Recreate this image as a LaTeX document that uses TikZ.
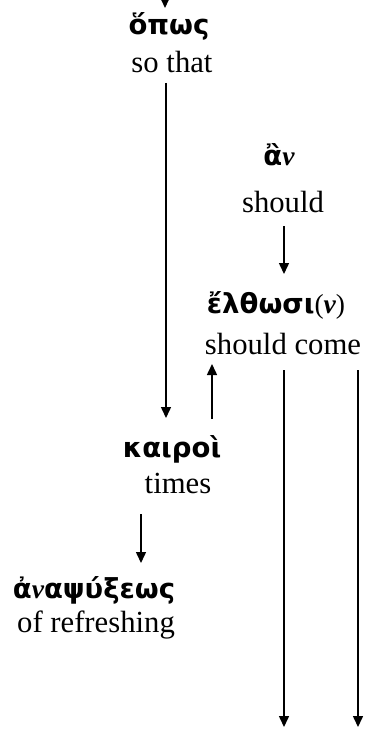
\documentclass[tikz,border=0pt]{standalone}
\usepackage{fontspec}
\setmainfont{Liberation Serif}
\newfontfamily\grk{DejaVu Sans}
\usetikzlibrary{arrows.meta}

% Greek headword in bold sans; the nu is taken from the serif italic
\newcommand{\gw}[1]{{\grk\bfseries #1}}
\newcommand{\inu}{{\rmfamily\bfseries\itshape ν}}

\tikzset{
  greek/.style={anchor=base, inner sep=0pt, font=\fontsize{27.5}{30}\selectfont},
  gloss/.style={anchor=base, inner sep=0pt, font=\fontsize{30.7}{36}\selectfont},
  link/.style={line width=1.5pt, -{Triangle[width=10pt,length=11pt]}}
}

\begin{document}
\begin{tikzpicture}[x=1pt,y=-1pt]
  \useasboundingbox (0,0) rectangle (368,730);

  % words with their glosses
  \node[greek] (opos)   at (169,35)  {\gw{ὅπως}};
  \node[gloss] (sothat) at (172,73)  {so that};
  \node[greek] (an)     at (279,165) {\gw{ἂ}\inu};
  \node[gloss] (should) at (283,212) {should};
  \node[greek] (elth)   at (276,313) {\gw{ἔλθωσι}{\rmfamily(}\inu{\rmfamily)}};
  \node[gloss] (come)   at (283,354) {should come};
  \node[greek] (kairoi) at (172,457) {\gw{καιροὶ}};
  \node[gloss] (times)  at (178,493) {times};
  \node[greek] (anaps)  at (94,598)  {\gw{ἀ}\inu\gw{αψύξεως}};
  \node[gloss] (refr)   at (96,632)  {of refreshing};

  % arrow ends
  \coordinate (inTop)  at (165,-12);
  \coordinate (inEnd)  at (165,8);
  \coordinate (oS)     at (166,83);
  \coordinate (kN)     at (166,418);
  \coordinate (aS)     at (284,226);
  \coordinate (eN)     at (284,274);
  \coordinate (kUp)    at (212,419);
  \coordinate (eUp)    at (212,364);
  \coordinate (kS)     at (141,514);
  \coordinate (nN)     at (141,563);
  \coordinate (eS1)    at (284,370);
  \coordinate (out1)   at (284,727);
  \coordinate (eS2)    at (358,370);
  \coordinate (out2)   at (358,727);

  \draw[link] (inTop) -- (inEnd);
  \draw[link] (oS) -- (kN);
  \draw[link] (aS) -- (eN);
  \draw[link] (kUp) -- (eUp);
  \draw[link] (kS) -- (nN);
  \draw[link] (eS1) -- (out1);
  \draw[link] (eS2) -- (out2);
\end{tikzpicture}
\end{document}
